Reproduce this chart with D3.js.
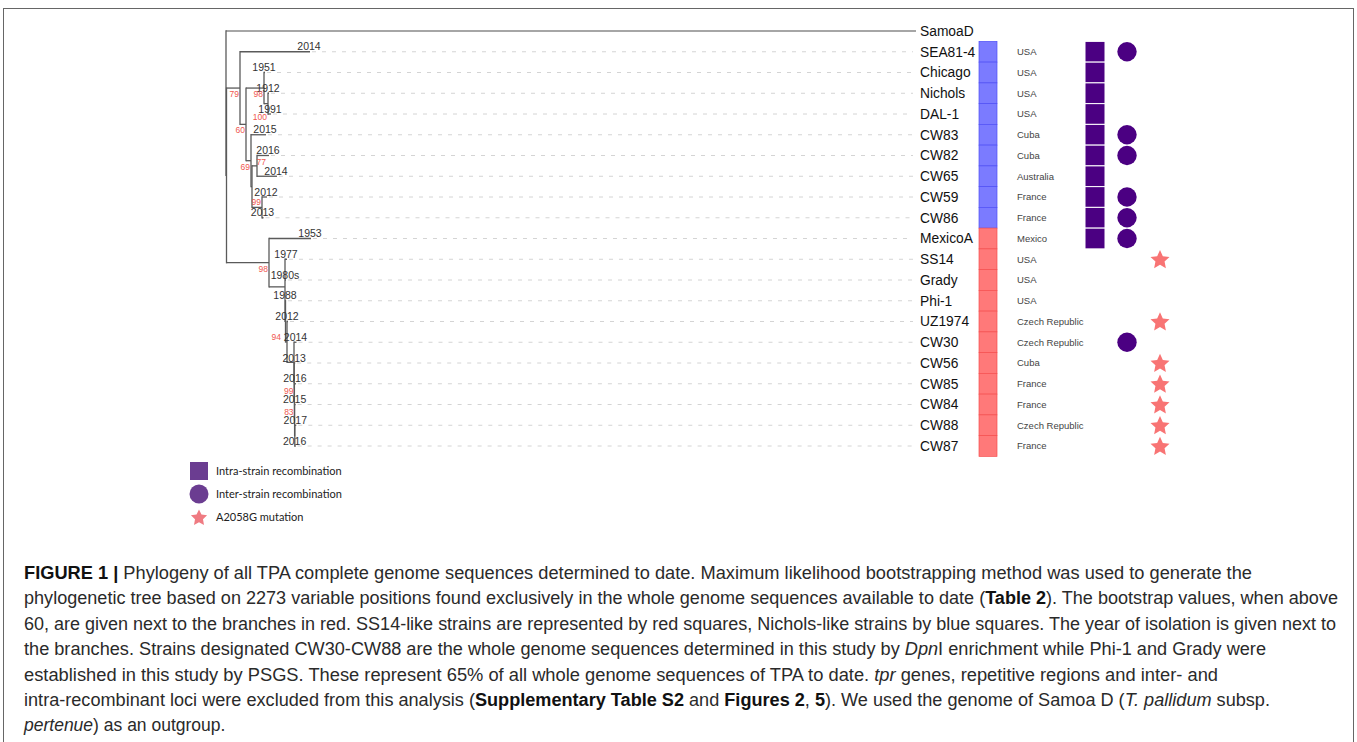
<!DOCTYPE html>
<html><head><meta charset="utf-8">
<script src="https://cdn.jsdelivr.net/npm/d3@7"></script>
<style>
html,body{margin:0;padding:0;background:#fff;}
svg{display:block;}
</style></head>
<body>
<svg id="chart" width="1357" height="742"></svg>
<script>
// ---------------- DATA ----------------
const tipNames = ["SamoaD","SEA81-4","Chicago","Nichols","DAL-1","CW83","CW82","CW65","CW59","CW86","MexicoA","SS14","Grady","Phi-1","UZ1974","CW30","CW56","CW85","CW84","CW88","CW87"];
const isolationYears = ["","2014","1951","1912","1991","2015","2016","2014","2012","2013","1953","1977","1980s","1988","2012","2014","2013","2016","2015","2017","2016"];
const countries = ["","USA","USA","USA","USA","Cuba","Cuba","Australia","France","France","Mexico","USA","USA","USA","Czech Republic","Czech Republic","Cuba","France","France","Czech Republic","France"];
const lineage = ["","Nichols","Nichols","Nichols","Nichols","Nichols","Nichols","Nichols","Nichols","Nichols","SS14","SS14","SS14","SS14","SS14","SS14","SS14","SS14","SS14","SS14","SS14"];
const intraStrain = [0,1,1,1,1,1,1,1,1,1,1,0,0,0,0,0,0,0,0,0,0];
const interStrain = [0,1,0,0,0,1,1,0,1,1,1,0,0,0,0,1,0,0,0,0,0];
const a2058g      = [0,0,0,0,0,0,0,0,0,0,0,1,0,0,1,0,1,1,1,1,1];
// tree edges: [node, parent, branch length, bootstrap support]
const treeEdges = [
  ["root", null, 0, null],
  ["SamoaD","root",690,null],
  ["TPA","root",0.5,null],
  ["A","TPA",13.5,79],
  ["SEA81-4","A",70,null],
  ["B","A",6,60],
  ["C","B",18,98],
  ["Chicago","C",1,null],
  ["G","C",4,100],
  ["Nichols","G",1,null],
  ["DAL-1","G",3,null],
  ["D","B",5,69],
  ["CW83","D",15,null],
  ["D2","D",1,null],
  ["E","D2",5,77],
  ["CW82","E",12,null],
  ["CW65","E",20,null],
  ["F","D2",10,99],
  ["CW59","F",5,null],
  ["CW86","F",1.5,null],
  ["H","TPA",42.5,98],
  ["MexicoA","H",42,null],
  ["I","H",16,null],
  ["SS14","I",2,null],
  ["Grady","I",1,null],
  ["I3","I",0.5,null],
  ["Phi-1","I3",0.5,null],
  ["K","I3",1.5,94],
  ["UZ1974","K",1,null],
  ["L","K",7,null],
  ["CW30","L",2.5,null],
  ["N","L",0.2,null],
  ["CW56","N",1,null],
  ["P","N",0.2,99],
  ["CW85","P",1.5,null],
  ["Q","P",0.2,83],
  ["CW84","Q",1,null],
  ["R","Q",0.2,null],
  ["CW88","R",1.5,null],
  ["CW87","R",0.8,null]
];
const legendLabels = ["Intra-strain recombination","Inter-strain recombination","A2058G mutation"];
const captionLines = [
  [["b","FIGURE 1 |"],["n"," Phylogeny of all TPA complete genome sequences determined to date. Maximum likelihood bootstrapping method was used to generate the"]],
  [["n","phylogenetic tree based on 2273 variable positions found exclusively in the whole genome sequences available to date ("],["b","Table 2"],["n","). The bootstrap values, when above"]],
  [["n","60, are given next to the branches in red. SS14-like strains are represented by red squares, Nichols-like strains by blue squares. The year of isolation is given next to"]],
  [["n","the branches. Strains designated CW30-CW88 are the whole genome sequences determined in this study by "],["i","Dpn"],["n","I enrichment while Phi-1 and Grady were"]],
  [["n","established in this study by PSGS. These represent 65% of all whole genome sequences of TPA to date. "],["i","tpr"],["n"," genes, repetitive regions and inter- and"]],
  [["n","intra-recombinant loci were excluded from this analysis ("],["b","Supplementary Table S2"],["n"," and "],["b","Figures 2"],["n",", "],["b","5"],["n","). We used the genome of Samoa D ("],["i","T. pallidum"],["n"," subsp."]],
  [["i","pertenue"],["n",") as an outgroup."]]
];
const captionLineEnds = [1252,1338,1336,1266,1218,1270,null];

// ---------------- DRAW ----------------
const svg = d3.select("#chart");
const FONT = "'Liberation Sans', Arial, Helvetica, sans-serif";

svg.append("rect").attr("x",3.5).attr("y",8.5).attr("width",1350).attr("height",745)
  .attr("fill","none").attr("stroke","#666").attr("stroke-width",1);

const x = d3.scaleLinear().domain([0,690]).range([226,916]);
const y = d3.scalePoint().domain(tipNames).range([31,446]);
const rowH = y.step();

const root = d3.stratify().id(d=>d[0]).parentId(d=>d[1])(treeEdges);
root.eachBefore(n => { n.len = n.parent ? n.parent.len + n.data[2] : 0; });
root.eachAfter(n => { n.yy = n.children ? d3.mean(n.children, c=>c.yy) : y(n.id); });

const g = svg.append("g");
const leaves = root.leaves();

// dashed guides
g.selectAll("line.guide").data(leaves.filter(d=>d.id!=="SamoaD")).join("line")
  .attr("x1",d=>x(d.len)+2).attr("x2",913)
  .attr("y1",d=>d.yy).attr("y2",d=>d.yy)
  .attr("stroke","#d4d4d4").attr("stroke-width",1).attr("stroke-dasharray","4,6");

// horizontal branches
g.selectAll("line.h").data(root.descendants().filter(d=>d.parent)).join("line")
  .attr("x1",d=>x(d.parent.len)).attr("x2",d=>x(d.len))
  .attr("y1",d=>d.yy).attr("y2",d=>d.yy)
  .attr("stroke",d=>d.id==="SamoaD"?"#888":"#5a5a5a").attr("stroke-width",1.3);
// vertical branches
g.selectAll("line.v").data(root.descendants().filter(d=>d.children)).join("line")
  .attr("x1",d=>x(d.len)).attr("x2",d=>x(d.len))
  .attr("y1",d=>d3.min(d.children,c=>c.yy)).attr("y2",d=>d3.max(d.children,c=>c.yy))
  .attr("stroke","#5a5a5a").attr("stroke-width",1.3).attr("stroke-linecap","square");

// year labels
const yearOf = Object.fromEntries(tipNames.map((t,i)=>[t,isolationYears[i]]));
g.selectAll("text.year").data(leaves.filter(d=>yearOf[d.id])).join("text")
  .attr("x",d=>x(d.len)-1).attr("y",d=>d.yy-1.5)
  .attr("text-anchor","middle").attr("font-family",FONT).attr("font-size",10.5)
  .attr("fill","#333").text(d=>yearOf[d.id]);

// support labels (label placement nudges, as drawn in the figure)
const labelNudge = {G:[0,7], E:[10,-10], F:[0,-11], K:[-5,-11], P:[0,-17], Q:[0,-14]};
g.selectAll("text.sup").data(root.descendants().filter(d=>d.data[3]!=null)).join("text")
  .attr("x",d=>x(d.len)-1+((labelNudge[d.id]||[0,0])[0]))
  .attr("y",d=>d.yy+9+((labelNudge[d.id]||[0,0])[1]))
  .attr("text-anchor","end").attr("font-family",FONT).attr("font-size",8.5)
  .attr("fill","#f0574f").text(d=>d.data[3]);

// tip labels
svg.selectAll("text.tip").data(tipNames).join("text")
  .attr("x",920).attr("y",d=>y(d)).attr("dy","0.35em")
  .attr("font-family",FONT).attr("font-size",13.8).attr("fill","#111").text(d=>d);

const rows = tipNames.map((t,i)=>({t,i})).slice(1);
// lineage tiles
const tileFill = {Nichols:"#7b7bff", SS14:"#ff7979"};
const tileStroke = {Nichols:"#4f4ff5", SS14:"#f54f4f"};
svg.selectAll("rect.tile").data(rows).join("rect")
  .attr("x",979).attr("width",18)
  .attr("y",d=>y(d.t)-rowH/2).attr("height",rowH)
  .attr("fill",d=>tileFill[lineage[d.i]]).attr("stroke",d=>tileStroke[lineage[d.i]]).attr("stroke-width",0.7);

// countries
svg.selectAll("text.country").data(rows).join("text")
  .attr("x",1017).attr("y",d=>y(d.t)).attr("dy","0.35em")
  .attr("font-family",FONT).attr("font-size",9.5).attr("fill","#444").text(d=>countries[d.i]);

const PURPLE = "#4b0082";
// intra-strain squares
svg.selectAll("rect.intra").data(rows.filter(d=>intraStrain[d.i])).join("rect")
  .attr("x",1085).attr("width",20)
  .attr("y",d=>y(d.t)-rowH/2).attr("height",rowH)
  .attr("fill",PURPLE).attr("stroke","#fff").attr("stroke-width",1);
// inter-strain circles
svg.selectAll("circle.inter").data(rows.filter(d=>interStrain[d.i])).join("circle")
  .attr("cx",1127).attr("cy",d=>y(d.t)).attr("r",9.7).attr("fill",PURPLE);

// stars
function starPath(ro, ri){
  const pts = d3.range(10).map(k=>[k*Math.PI/5, k%2?ri:ro]);
  return d3.lineRadial().curve(d3.curveLinearClosed)(pts);
}
svg.selectAll("path.star").data(rows.filter(d=>a2058g[d.i])).join("path")
  .attr("transform",d=>`translate(1160,${y(d.t)+0.8})`)
  .attr("d",starPath(10,4.8)).attr("fill","#f87474");

// legend
const LFONT = "Lato, 'Open Sans', sans-serif";
const leg = svg.append("g");
leg.append("rect").attr("x",190).attr("y",462).attr("width",18).attr("height",18).attr("fill","#6b3d91");
leg.append("circle").attr("cx",199).attr("cy",494).attr("r",9.5).attr("fill","#6b3d91");
leg.append("path").attr("transform","translate(199,518)").attr("d",starPath(8.5,4.2)).attr("fill","#ef7b82");
leg.selectAll("text").data(legendLabels).join("text")
  .attr("x",216).attr("y",(d,i)=>471+i*23).attr("dy","0.35em")
  .attr("font-family",LFONT).attr("font-size",11).attr("fill","#222").text(d=>d);

// caption
const CFONT = "'Liberation Sans Narrow', 'Liberation Sans', Arial, sans-serif";
captionLines.forEach((parts, li) => {
  const t = svg.append("text").attr("x",24).attr("y",579 + li*25.4)
    .attr("font-family",CFONT).attr("font-size",17.5).attr("fill","#2a2a2a");
  parts.forEach(([sty, txt]) => {
    const ts = t.append("tspan").text(txt);
    if (sty==="b") ts.attr("font-weight","bold").attr("fill","#111");
    if (sty==="i") ts.attr("font-style","italic");
  });
  if (captionLineEnds[li]) {
    t.attr("textLength", captionLineEnds[li]-24).attr("lengthAdjust","spacingAndGlyphs");
  }
});
</script>
</body></html>
